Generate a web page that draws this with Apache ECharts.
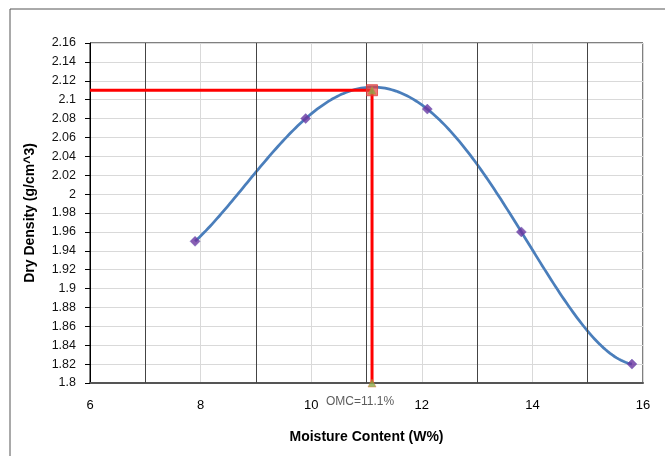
<!DOCTYPE html>
<html>
<head>
<meta charset="utf-8">
<script src="https://cdn.jsdelivr.net/npm/echarts@6/dist/echarts.min.js"></script>
<style>
  html, body { margin: 0; padding: 0; background: #fff; }
  #chart { width: 665px; height: 456px; }
</style>
</head>
<body>
<div id="chart"></div>
<script>
// test points
var moisture = [7.9, 9.9, 12.1, 13.8, 15.8];
var density = [1.95, 2.08, 2.09, 1.96, 1.82];
// optimum moisture content and max dry density
var omc = 11.1;
var maxDensity = 2.11;
var majorX = [7, 9, 11, 13, 15];

var font = '"Liberation Sans", Arial, sans-serif';
var chart = echarts.init(document.getElementById('chart'));

var curveData = moisture.map(function (m, i) { return [m, density[i]]; });

// order-4 polynomial trendline through the test points (as the spreadsheet draws it)
function trend(x) {
    var sum = 0;
    for (var i = 0; i < moisture.length; i++) {
        var term = density[i];
        for (var j = 0; j < moisture.length; j++) {
            if (j !== i) term *= (x - moisture[j]) / (moisture[i] - moisture[j]);
        }
        sum += term;
    }
    return sum;
}

var option = {
    backgroundColor: '#fff',
    animation: false,
    textStyle: { fontFamily: font },
    graphic: [{
        type: 'rect',
        shape: { x: 10, y: 9, width: 700, height: 500 },
        style: { fill: 'none', stroke: '#555', lineWidth: 1 },
        silent: true
    }],
    grid: { left: 90, right: 22, top: 43, bottom: 73, show: true, borderColor: '#000', borderWidth: 1 },
    xAxis: {
        type: 'value', min: 6, max: 16, interval: 1,
        name: 'Moisture Content (W%)', nameLocation: 'middle', nameGap: 47,
        nameTextStyle: { fontFamily: font, fontSize: 14, fontWeight: 'bold', color: '#000' },
        axisLine: { lineStyle: { color: '#555', width: 2 } },
        axisTick: { show: false },
        axisLabel: {
            fontFamily: font, fontSize: 13, color: '#000', margin: 16,
            formatter: function (v) { return v % 2 === 0 ? String(v) : ''; }
        },
        splitLine: { lineStyle: { color: '#d9d9d9', width: 1 } }
    },
    yAxis: {
        type: 'value', min: 1.8, max: 2.16, interval: 0.02,
        name: 'Dry Density (g/cm^3)', nameLocation: 'middle', nameGap: 53,
        nameTextStyle: { fontFamily: font, fontSize: 14, fontWeight: 'bold', color: '#000' },
        axisLine: { lineStyle: { color: '#000', width: 1 } },
        axisTick: { show: true, length: 5, lineStyle: { color: '#000' } },
        axisLabel: {
            fontFamily: font, fontSize: 12.5, color: '#111', margin: 14,
            formatter: function (v) { return String(+v.toFixed(2)); }
        },
        splitLine: { lineStyle: { color: '#d9d9d9', width: 1 } }
    },
    series: [
        {
            // dark lines every odd moisture value
            type: 'line', data: [], silent: true,
            markLine: {
                silent: true, symbol: 'none', label: { show: false },
                lineStyle: { color: '#444', width: 1, type: 'solid' },
                data: majorX.map(function (x) { return { xAxis: x }; })
            }
        },
        {
            type: 'custom',
            data: curveData,
            encode: { x: 0, y: 1 },
            silent: true,
            z: 3,
            renderItem: function (params, api) {
                if (params.dataIndex !== 0) return null;
                var a = moisture[0], b = moisture[moisture.length - 1];
                var pts = [];
                for (var i = 0; i <= 200; i++) {
                    var x = a + (b - a) * i / 200;
                    pts.push(api.coord([x, trend(x)]));
                }
                return {
                    type: 'polyline',
                    shape: { points: pts },
                    style: { stroke: '#4a7ebb', lineWidth: 2.75, fill: 'none' }
                };
            }
        },
        {
            type: 'scatter',
            data: curveData,
            symbol: 'diamond',
            symbolSize: 10,
            itemStyle: { color: '#6a35a0', borderColor: '#5a50b0', borderWidth: 0.5 },
            z: 4
        },
        {
            type: 'line',
            data: [[6, maxDensity], [omc, maxDensity], [omc, 1.8]],
            symbol: 'none',
            lineStyle: { color: '#ff0000', width: 3 },
            z: 5
        },
        {
            type: 'scatter',
            data: [[omc, maxDensity]],
            symbol: 'rect', symbolSize: 11,
            itemStyle: { color: 'rgba(230,60,60,0.85)', borderColor: '#e04040' },
            z: 6
        },
        {
            type: 'scatter',
            data: [[omc, maxDensity], [omc, 1.8]],
            symbol: 'triangle', symbolSize: 8,
            itemStyle: { color: '#8aaa4a', borderColor: '#e07030', borderWidth: 0.5 },
            label: {
                show: true, position: 'bottom', distance: 8, offset: [-12, 0],
                fontFamily: font, fontSize: 12, color: '#333',
                formatter: function (p) { return p.dataIndex === 1 ? 'OMC=' + omc + '%' : ''; }
            },
            z: 7
        }
    ]
};
chart.setOption(option);
</script>
</body>
</html>
